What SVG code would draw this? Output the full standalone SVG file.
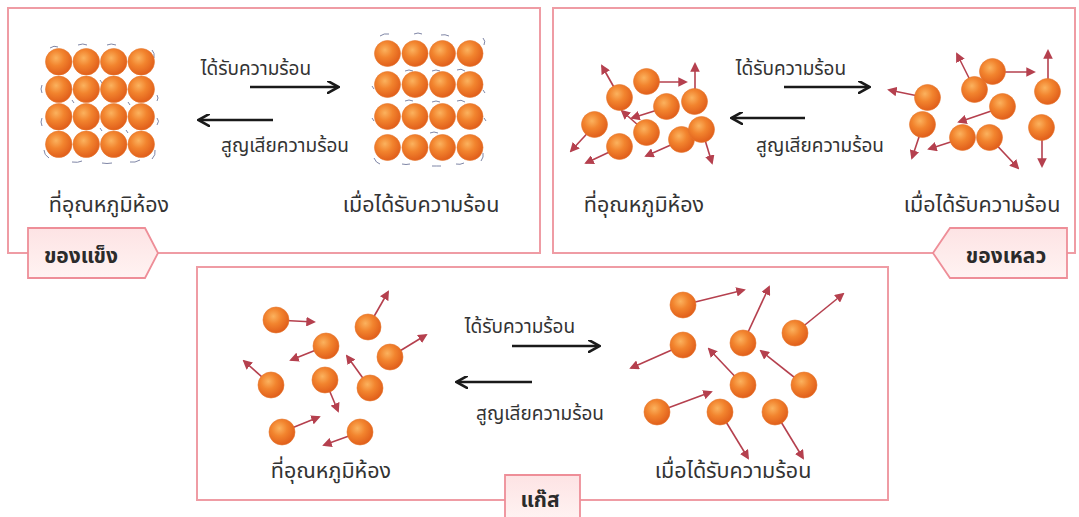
<svg xmlns="http://www.w3.org/2000/svg" xmlns:xlink="http://www.w3.org/1999/xlink" width="1079" height="517" viewBox="0 0 1079 517">
  <style>
    .panel { fill: #ffffff; stroke: #ef9ca4; stroke-width: 2; }
    .tab { fill: url(#tabFill); stroke: #ee8e98; stroke-width: 1.8; }
    .tabtext { font-family: 'Noto Sans Thai', Tahoma, Loma, Garuda, 'Noto Sans', sans-serif; font-size: 21px; font-weight: bold; fill: #2b2b2b; text-anchor: middle; }
    .lbl { font-family: 'Noto Sans Thai', Tahoma, Loma, Garuda, 'Noto Sans', sans-serif; font-size: 21.5px; fill: #333333; text-anchor: middle; }
    .small { font-family: 'Noto Sans Thai', Tahoma, Loma, Garuda, 'Noto Sans', sans-serif; font-size: 19px; fill: #333333; text-anchor: middle; }
    .flow { stroke: #1a1a1a; stroke-width: 2.6; fill: none; marker-end: url(#flowHead); }
    .vel { stroke: #b5404e; stroke-width: 1.6; fill: none; marker-end: url(#velHead); }
    .vib { stroke: #7f86a6; stroke-width: 1; fill: none; }
  </style>
  <defs>
    <radialGradient id="ball" cx="0.4" cy="0.36" r="0.66">
      <stop offset="0" stop-color="#fbb25e"/>
      <stop offset="0.45" stop-color="#f2842e"/>
      <stop offset="1" stop-color="#e05d1a"/>
    </radialGradient>
    <linearGradient id="tabFill" x1="0" y1="0" x2="0" y2="1">
      <stop offset="0" stop-color="#fde3e4"/>
      <stop offset="1" stop-color="#fff3f2"/>
    </linearGradient>
    <symbol id="p" viewBox="-14 -14 28 28" overflow="visible">
      <circle r="13.5" fill="url(#ball)" stroke="#e5782e" stroke-width="0.6"/>
    </symbol>
    <marker id="flowHead" viewBox="0 0 10 10" refX="7" refY="5" markerWidth="5" markerHeight="5" orient="auto" markerUnits="strokeWidth">
      <path d="M0,0 L9,5 L0,10" fill="none" stroke="#1a1a1a" stroke-width="2"/>
    </marker>
    <marker id="velHead" viewBox="0 0 10 10" refX="8" refY="5" markerWidth="6" markerHeight="6" orient="auto" markerUnits="strokeWidth">
      <path d="M0,0 L10,5 L0,10 Z" fill="#b5404e"/>
    </marker>
  </defs>

  <rect width="1079" height="517" fill="#ffffff"/>

  <!-- frames -->
  <g id="solid-panel">
    <rect class="panel" x="8" y="8" width="532" height="245"/>
    <path class="tab" d="M28,228 H145 L158,253 L145,278 H28 Z"/>
    <text class="tabtext" x="81" y="263">ของแข็ง</text>
  </g>
  <g id="liquid-panel">
    <rect class="panel" x="553" y="8" width="522" height="245"/>
    <path class="tab" d="M1067,228 H950 L933,253 L950,278 H1067 Z"/>
    <text class="tabtext" x="1006" y="263">ของเหลว</text>
  </g>
  <g id="gas-panel">
    <rect class="panel" x="197" y="267" width="691" height="233"/>
    <path class="tab" d="M505,520 V475 H580 V520"/>
    <text class="tabtext" x="540" y="507">แก๊ส</text>
  </g>

  <!-- solid: room temperature lattice -->
  <g id="solid-room">
    <g class="vib">
      <path d="M50,48 q4,-3 8,-1"/><path d="M78,45 q5,-2 9,0"/><path d="M107,45 q4,-2 9,0"/><path d="M152,50 q3,3 2,8"/>
      <path d="M42,85 q-2,4 0,8"/><path d="M157,95 q2,3 0,6"/><path d="M42,118 q-2,4 0,8"/><path d="M157,118 q3,3 0,7"/>
      <path d="M44,150 q0,5 5,8"/><path d="M72,162 q6,1 10,-1"/><path d="M102,163 q5,1 10,0"/><path d="M130,162 q5,1 10,-2"/><path d="M155,150 q1,5 -3,9"/>
      <path d="M72,100 l2,3"/><path d="M100,80 l2,3"/><path d="M128,102 l2,3"/><path d="M100,128 l2,3"/><path d="M126,130 l2,3"/>
    </g>
    <use href="#p" x="45" y="48" width="27.5" height="27.5"/>
    <use href="#p" x="72.5" y="48" width="27.5" height="27.5"/>
    <use href="#p" x="100" y="48" width="27.5" height="27.5"/>
    <use href="#p" x="127.5" y="48" width="27.5" height="27.5"/>
    <use href="#p" x="45" y="75.5" width="27.5" height="27.5"/>
    <use href="#p" x="72.5" y="75.5" width="27.5" height="27.5"/>
    <use href="#p" x="100" y="75.5" width="27.5" height="27.5"/>
    <use href="#p" x="127.5" y="75.5" width="27.5" height="27.5"/>
    <use href="#p" x="45" y="103" width="27.5" height="27.5"/>
    <use href="#p" x="72.5" y="103" width="27.5" height="27.5"/>
    <use href="#p" x="100" y="103" width="27.5" height="27.5"/>
    <use href="#p" x="127.5" y="103" width="27.5" height="27.5"/>
    <use href="#p" x="45" y="130.5" width="27.5" height="27.5"/>
    <use href="#p" x="72.5" y="130.5" width="27.5" height="27.5"/>
    <use href="#p" x="100" y="130.5" width="27.5" height="27.5"/>
    <use href="#p" x="127.5" y="130.5" width="27.5" height="27.5"/>
    <text class="lbl" x="109" y="212">ที่อุณหภูมิห้อง</text>
  </g>

  <!-- solid: heated rows -->
  <g id="solid-heated">
    <g class="vib">
      <path d="M380,36 q4,-3 9,-2"/><path d="M414,34 q4,-2 8,0"/><path d="M441,35 q4,-1 8,1"/><path d="M483,38 q3,3 1,7"/>
      <path d="M372,86 l2,3"/><path d="M483,90 l2,3"/><path d="M405,71 q4,-2 8,0"/><path d="M432,71 q4,-2 8,0"/><path d="M457,70 q4,-2 8,1"/>
      <path d="M372,118 l2,3"/><path d="M484,118 l2,3"/><path d="M405,101 q4,-2 8,0"/><path d="M432,102 q4,-2 8,0"/><path d="M457,101 q4,-2 8,1"/>
      <path d="M430,133 q4,-2 8,0"/><path d="M409,138 l2,3"/><path d="M374,158 q2,5 6,6"/><path d="M402,164 q4,1 8,0"/><path d="M432,166 q5,0 9,0"/><path d="M456,164 q4,1 8,-1"/><path d="M483,153 q1,4 -2,8"/>
    </g>
    <use href="#p" x="374" y="40" width="27" height="27"/>
    <use href="#p" x="401.5" y="40" width="27" height="27"/>
    <use href="#p" x="429" y="40" width="27" height="27"/>
    <use href="#p" x="456.5" y="40" width="27" height="27"/>
    <use href="#p" x="374" y="71" width="27" height="27"/>
    <use href="#p" x="401.5" y="71" width="27" height="27"/>
    <use href="#p" x="429" y="71" width="27" height="27"/>
    <use href="#p" x="456.5" y="71" width="27" height="27"/>
    <use href="#p" x="374" y="103" width="27" height="27"/>
    <use href="#p" x="401.5" y="103" width="27" height="27"/>
    <use href="#p" x="429" y="103" width="27" height="27"/>
    <use href="#p" x="456.5" y="103" width="27" height="27"/>
    <use href="#p" x="374" y="134" width="27" height="27"/>
    <use href="#p" x="401.5" y="134" width="27" height="27"/>
    <use href="#p" x="429" y="134" width="27" height="27"/>
    <use href="#p" x="456.5" y="134" width="27" height="27"/>
    <text class="lbl" x="421" y="212">เมื่อได้รับความร้อน</text>
  </g>

  <!-- liquid: room temperature -->
  <g id="liquid-room">
    <g>
      <path class="vel" d="M620,98 L602,66"/>
      <path class="vel" d="M647,82 L686,82"/>
      <path class="vel" d="M695,102 L695,64"/>
      <path class="vel" d="M667,107 L632,118"/>
      <path class="vel" d="M647,133 L622,111"/>
      <path class="vel" d="M595,125 L571,151"/>
      <path class="vel" d="M620,147 L586,163"/>
      <path class="vel" d="M682,140 L646,156"/>
      <path class="vel" d="M702,130 L712,163"/>
    </g>
    <use href="#p" x="633" y="68" width="27" height="27"/>
    <use href="#p" x="606" y="84" width="27" height="27"/>
    <use href="#p" x="653" y="93" width="27" height="27"/>
    <use href="#p" x="681" y="88" width="27" height="27"/>
    <use href="#p" x="581" y="111" width="27" height="27"/>
    <use href="#p" x="633" y="119" width="27" height="27"/>
    <use href="#p" x="668" y="126" width="27" height="27"/>
    <use href="#p" x="688" y="116" width="27" height="27"/>
    <use href="#p" x="606" y="133" width="27" height="27"/>
    <text class="lbl" x="644" y="212">ที่อุณหภูมิห้อง</text>
  </g>

  <!-- liquid: heated -->
  <g id="liquid-heated">
    <g>
      <path class="vel" d="M928,98 L889,90"/>
      <path class="vel" d="M923,125 L912,158"/>
      <path class="vel" d="M975,90 L957,54"/>
      <path class="vel" d="M993,72 L1034,72"/>
      <path class="vel" d="M1048,92 L1048,51"/>
      <path class="vel" d="M1003,107 L959,122"/>
      <path class="vel" d="M963,138 L929,149"/>
      <path class="vel" d="M990,138 L1018,168"/>
      <path class="vel" d="M1042,128 L1042,166"/>
    </g>
    <use href="#p" x="914" y="84" width="27" height="27"/>
    <use href="#p" x="909" y="111" width="27" height="27"/>
    <use href="#p" x="961" y="76" width="27" height="27"/>
    <use href="#p" x="979" y="58" width="27" height="27"/>
    <use href="#p" x="1034" y="78" width="27" height="27"/>
    <use href="#p" x="989" y="93" width="27" height="27"/>
    <use href="#p" x="949" y="124" width="27" height="27"/>
    <use href="#p" x="976" y="124" width="27" height="27"/>
    <use href="#p" x="1028" y="114" width="27" height="27"/>
    <text class="lbl" x="982" y="212">เมื่อได้รับความร้อน</text>
  </g>

  <!-- gas: room temperature -->
  <g id="gas-room">
    <g>
      <path class="vel" d="M276,320 L314,322"/>
      <path class="vel" d="M368,327 L388,292"/>
      <path class="vel" d="M326,346 L291,360"/>
      <path class="vel" d="M390,357 L426,335"/>
      <path class="vel" d="M271,385 L244,361"/>
      <path class="vel" d="M325,380 L338,411"/>
      <path class="vel" d="M370,388 L347,356"/>
      <path class="vel" d="M282,432 L319,417"/>
      <path class="vel" d="M360,432 L324,445"/>
    </g>
    <use href="#p" x="262.5" y="306.5" width="27" height="27"/>
    <use href="#p" x="354.5" y="313.5" width="27" height="27"/>
    <use href="#p" x="312.5" y="332.5" width="27" height="27"/>
    <use href="#p" x="376.5" y="343.5" width="27" height="27"/>
    <use href="#p" x="257.5" y="371.5" width="27" height="27"/>
    <use href="#p" x="311.5" y="366.5" width="27" height="27"/>
    <use href="#p" x="356.5" y="374.5" width="27" height="27"/>
    <use href="#p" x="268.5" y="418.5" width="27" height="27"/>
    <use href="#p" x="346.5" y="418.5" width="27" height="27"/>
    <text class="lbl" x="331" y="478">ที่อุณหภูมิห้อง</text>
  </g>

  <!-- gas: heated -->
  <g id="gas-heated">
    <g>
      <path class="vel" d="M683,305 L744,290"/>
      <path class="vel" d="M683,345 L631,368"/>
      <path class="vel" d="M743,343 L769,287"/>
      <path class="vel" d="M795,333 L843,294"/>
      <path class="vel" d="M743,385 L709,349"/>
      <path class="vel" d="M804,385 L761,351"/>
      <path class="vel" d="M657,412 L711,392"/>
      <path class="vel" d="M720,412 L748,458"/>
      <path class="vel" d="M775,412 L803,458"/>
    </g>
    <use href="#p" x="669.5" y="291.5" width="27" height="27"/>
    <use href="#p" x="669.5" y="331.5" width="27" height="27"/>
    <use href="#p" x="729.5" y="329.5" width="27" height="27"/>
    <use href="#p" x="781.5" y="319.5" width="27" height="27"/>
    <use href="#p" x="729.5" y="371.5" width="27" height="27"/>
    <use href="#p" x="790.5" y="371.5" width="27" height="27"/>
    <use href="#p" x="643.5" y="398.5" width="27" height="27"/>
    <use href="#p" x="706.5" y="398.5" width="27" height="27"/>
    <use href="#p" x="761.5" y="398.5" width="27" height="27"/>
    <text class="lbl" x="733" y="478">เมื่อได้รับความร้อน</text>
  </g>

  <!-- heat gain / heat loss connectors -->
  <g id="connectors">
    <path class="flow" d="M250,87 H336"/>
    <path class="flow" d="M273,120 H201"/>
    <path class="flow" d="M784,87 H867"/>
    <path class="flow" d="M805,118 H734"/>
    <path class="flow" d="M512,346 H597"/>
    <path class="flow" d="M532,382 H459"/>
  </g>
  <g id="connector-labels">
    <text class="small" x="256" y="75">ได้รับความร้อน</text>
    <text class="small" x="285" y="152">สูญเสียความร้อน</text>
    <text class="small" x="791" y="75">ได้รับความร้อน</text>
    <text class="small" x="820" y="152">สูญเสียความร้อน</text>
    <text class="small" x="520" y="333">ได้รับความร้อน</text>
    <text class="small" x="540" y="420">สูญเสียความร้อน</text>
  </g>
</svg>
